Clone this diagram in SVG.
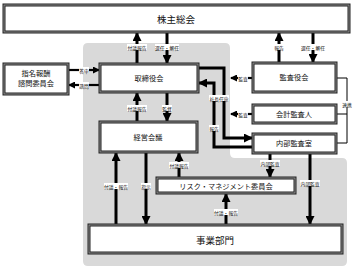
<svg xmlns="http://www.w3.org/2000/svg" width="357" height="272" viewBox="0 0 357 272">
<defs>
<marker id="ah" markerUnits="userSpaceOnUse" markerWidth="9" markerHeight="9" viewBox="0 0 9 9" refX="8" refY="4.5" orient="auto">
<path d="M0,0 L9,4.5 L0,9 Z" fill="#000"/>
</marker>
<marker id="ahs" markerUnits="userSpaceOnUse" markerWidth="7" markerHeight="7" viewBox="0 0 7 7" refX="6" refY="3.5" orient="auto">
<path d="M0,0 L7,3.5 L0,7 Z" fill="#000"/>
</marker>
</defs>
<style>
text{font-family:"Noto Sans CJK JP","Noto Sans",sans-serif;fill:#111;text-anchor:middle;dominant-baseline:central}
.b1{fill:#fff;stroke:#222;stroke-width:3}
.b2{fill:none;stroke:#999;stroke-width:0.9}
.t{font-size:7.2px}
.tl{font-size:9.5px}
.s{font-size:4.8px}
.c{fill:none;stroke:#000;stroke-width:3;marker-end:url(#ah)}
.cs{fill:none;stroke:#000;stroke-width:2.2;marker-end:url(#ahs)}
.thin{fill:none;stroke:#000;stroke-width:1}
.lb{fill:#fff}
</style>
<rect width="357" height="272" fill="#fff"/>
<path id="bg" d="M88,43 H225 Q230,43 230,48 V153 Q230,158 235,158 H342 Q347,158 347,163 V261 Q347,266 342,266 H88 Q83,266 83,261 V48 Q83,43 88,43 Z" fill="#d9d9d9"/>

<g id="connectors">
<path class="c" d="M137,64 V33"/>
<path class="c" d="M167,32 V63"/>
<path class="c" d="M279,63 V33"/>
<path class="c" d="M313,32 V62"/>
<path class="cs" d="M68,70 H99"/>
<path class="cs" d="M100,85 H69"/>
<path class="c" d="M137,122 V93"/>
<path class="c" d="M167,92 V121"/>
<path class="cs" d="M253,78 H231"/>
<path class="cs" d="M253,114 H231"/>
<path class="c" d="M198,68 H224 V138 H252"/>
<path class="c" d="M253,147 H214 V83 H199"/>
<path class="thin" d="M336,78 H347 V143 H336 M336,114 H347"/>
<path class="c" d="M270,153 V177"/>
<path class="c" d="M310,153 V224"/>
<path class="c" d="M179,177 V153"/>
<path class="c" d="M116,225 V153"/>
<path class="c" d="M146,152 V224"/>
<path class="c" d="M226,225 V194"/>
</g>

<g id="labels">
<rect class="lb" x="127" y="44" width="20" height="6"/><text class="s" x="137" y="47">付議報告</text>
<rect class="lb" x="155" y="44" width="24" height="6"/><text class="s" x="167" y="47">選任・解任</text>
<rect class="lb" x="274" y="44" width="10" height="6"/><text class="s" x="279" y="47">報告</text>
<rect class="lb" x="301" y="44" width="24" height="6"/><text class="s" x="313" y="47">選任・解任</text>
<rect class="lb" x="79" y="67" width="10" height="6"/><text class="s" x="84" y="70">答申</text>
<rect class="lb" x="79" y="82" width="10" height="6"/><text class="s" x="84" y="85">諮問</text>
<rect class="lb" x="127" y="105" width="20" height="6"/><text class="s" x="137" y="108">付議報告</text>
<rect class="lb" x="162" y="105" width="10" height="6"/><text class="s" x="167" y="108">監督</text>
<rect class="lb" x="238" y="75" width="10" height="6"/><text class="s" x="243" y="78">監査</text>
<rect class="lb" x="238" y="111" width="10" height="6"/><text class="s" x="243" y="114">監査</text>
<rect class="lb" x="209" y="95" width="20" height="6"/><text class="s" x="219" y="98">社長任命</text>
<rect class="lb" x="209" y="125" width="10" height="6"/><text class="s" x="214" y="128">報告</text>
<rect class="lb" x="342" y="101" width="10" height="6"/><text class="s" x="347" y="104">連携</text>
<rect class="lb" x="260" y="160" width="20" height="6"/><text class="s" x="270" y="163">内部監査</text>
<rect class="lb" x="300" y="180" width="20" height="6"/><text class="s" x="310" y="183">内部監査</text>
<rect class="lb" x="169" y="162" width="20" height="6"/><text class="s" x="179" y="165">付議報告</text>
<rect class="lb" x="104" y="183" width="24" height="6"/><text class="s" x="116" y="186">付議・報告</text>
<rect class="lb" x="141" y="183" width="10" height="6"/><text class="s" x="146" y="186">指示</text>
<rect class="lb" x="214" y="209" width="24" height="6"/><text class="s" x="226" y="212">付議・報告</text>
</g>

<g id="n-shareholders"><rect class="b1" x="4" y="5" width="345" height="27"/><rect class="b2" x="4" y="5" width="345" height="27"/><text class="tl" x="176" y="19">株主総会</text></g>
<g id="n-nomination"><rect class="b1" x="4" y="64" width="64" height="30"/><rect class="b2" x="4" y="64" width="64" height="30"/><text class="t" x="36" y="73">指名報酬</text><text class="t" x="36" y="83">諮問委員会</text></g>
<g id="n-board"><rect class="b1" x="100" y="64" width="98" height="28"/><rect class="b2" x="100" y="64" width="98" height="28"/><text class="t" x="149" y="78">取締役会</text></g>
<g id="n-auditboard"><rect class="b1" x="253" y="63" width="83" height="29"/><rect class="b2" x="253" y="63" width="83" height="29"/><text class="t" x="294" y="77">監査役会</text></g>
<g id="n-accountant"><rect class="b1" x="253" y="105" width="83" height="18"/><rect class="b2" x="253" y="105" width="83" height="18"/><text class="t" x="294" y="114">会計監査人</text></g>
<g id="n-internal"><rect class="b1" x="253" y="134" width="83" height="19"/><rect class="b2" x="253" y="134" width="83" height="19"/><text class="t" x="294" y="143">内部監査室</text></g>
<g id="n-mgmt"><rect class="b1" x="100" y="122" width="97" height="30"/><rect class="b2" x="100" y="122" width="97" height="30"/><text class="t" x="148" y="137">経営会議</text></g>
<g id="n-risk"><rect class="b1" x="157" y="178" width="138" height="15"/><rect class="b2" x="157" y="178" width="138" height="15"/><text class="t" x="226" y="185.5">リスク・マネジメント委員会</text></g>
<g id="n-business"><rect class="b1" x="89" y="225" width="253" height="28"/><rect class="b2" x="89" y="225" width="253" height="28"/><text class="tl" x="215" y="239.5">事業部門</text></g>
</svg>
